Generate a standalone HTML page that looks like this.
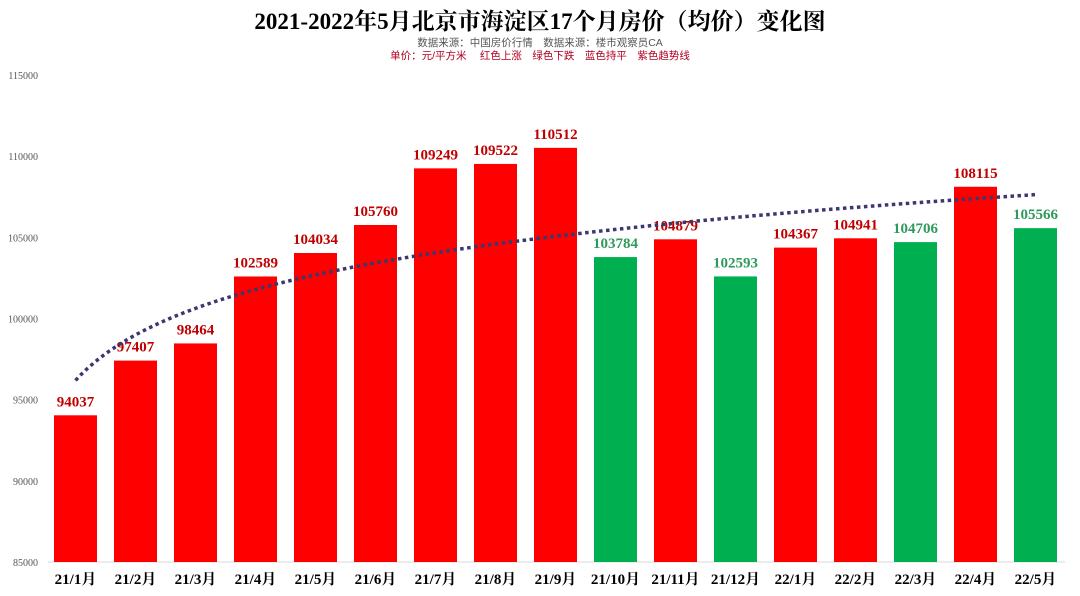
<!DOCTYPE html>
<html><head><meta charset="utf-8">
<style>
html,body{margin:0;padding:0;background:#fff;}
body{width:1080px;height:596px;overflow:hidden;}
svg{display:block;}
</style></head>
<body>
<svg id="chart" width="1080" height="596" xmlns="http://www.w3.org/2000/svg">
<rect x="0" y="0" width="1080" height="596" fill="#fff"/>
<text x="540" y="29" text-anchor="middle" font-family="'Liberation Serif','Noto Serif CJK SC',serif" font-weight="bold" font-size="23" fill="#000">2021-2022年5月北京市海淀区17个月房价（均价）变化图</text>
<text x="540" y="46" text-anchor="middle" font-family="'Liberation Sans','Noto Sans CJK SC',sans-serif" font-size="10.5" fill="#555">数据来源：中国房价行情　数据来源：楼市观察员CA</text>
<text x="540" y="59" text-anchor="middle" font-family="'Liberation Sans','Noto Sans CJK SC',sans-serif" font-size="10.5" fill="#b00020">单价：元/平方米　 红色上涨　绿色下跌　蓝色持平　紫色趋势线</text>
<g id="yaxis"></g>
<g id="bars"></g>
<g id="labels"></g>
<g id="xlabels"></g>
<g id="trend"></g>
</svg>
<script>
const categories=["21/1月","21/2月","21/3月","21/4月","21/5月","21/6月","21/7月","21/8月","21/9月","21/10月","21/11月","21/12月","22/1月","22/2月","22/3月","22/4月","22/5月"];
const values=[94037,97407,98464,102589,104034,105760,109249,109522,110512,103784,104879,102593,104367,104941,104706,108115,105566];
const yTicks=[85000,90000,95000,100000,105000,110000,115000];
const NS="http://www.w3.org/2000/svg";
const yMin=85000,yMax=115000,yBase=562,yTop=75;
function yS(v){return yBase-(v-yMin)/(yMax-yMin)*(yBase-yTop);}
function xS(i){return 75.5+i*60;}
const bw=43;
function mk(tag,attrs,parent){const e=document.createElementNS(NS,tag);for(const k in attrs)e.setAttribute(k,attrs[k]);parent.appendChild(e);return e;}
const ya=document.getElementById('yaxis');
yTicks.forEach(t=>{
  const e=mk('text',{x:38,y:yS(t)+4,'text-anchor':'end','font-family':"'Liberation Serif',serif",'font-size':10,fill:'#555'},ya);
  
  
  e.textContent=t;
});
const ax=mk('line',{x1:48,x2:1065,y1:yBase,y2:yBase,stroke:'#d9d9d9','stroke-width':1},ya);


const bg=document.getElementById('bars'),lg=document.getElementById('labels'),xg=document.getElementById('xlabels');
values.forEach((v,i)=>{
  const up=i===0||v>values[i-1];
  const r=mk('rect',{x:xS(i)-bw/2,y:yS(v),width:bw,height:yBase-yS(v),fill:up?'#ff0000':'#00b050'},bg);
  
  
  const t=mk('text',{x:xS(i),y:yS(v)-9,'text-anchor':'middle','font-family':"'Liberation Serif',serif",'font-weight':'bold','font-size':15,fill:up?'#c00000':'#2e9a5a'},lg);
  
  
  t.textContent=v;
  const c=mk('text',{x:xS(i),y:584,'text-anchor':'middle','font-family':"'Liberation Serif','Noto Serif CJK SC',serif",'font-weight':'bold','font-size':15,fill:'#000'},xg);
  
  
  c.textContent=categories[i];
});
// logarithmic trendline fitted from values
const n=values.length;let sx=0,sy=0,sxx=0,sxy=0;
values.forEach((v,i)=>{const l=Math.log(i+1);sx+=l;sy+=v;sxx+=l*l;sxy+=l*v;});
const b=(n*sxy-sx*sy)/(n*sxx-sx*sx),a=(sy-b*sx)/n;
let pts=[];
for(let s=0;s<=(n-1)*10;s++){const xi=s/10;pts.push(xS(xi)+','+yS(a+b*Math.log(xi+1)).toFixed(1));}
const tl=mk('polyline',{points:pts.join(' '),fill:'none',stroke:'#3b3870','stroke-width':3.5,'stroke-dasharray':'3.5 3.5'},document.getElementById('trend'));


</script>
</body></html>
